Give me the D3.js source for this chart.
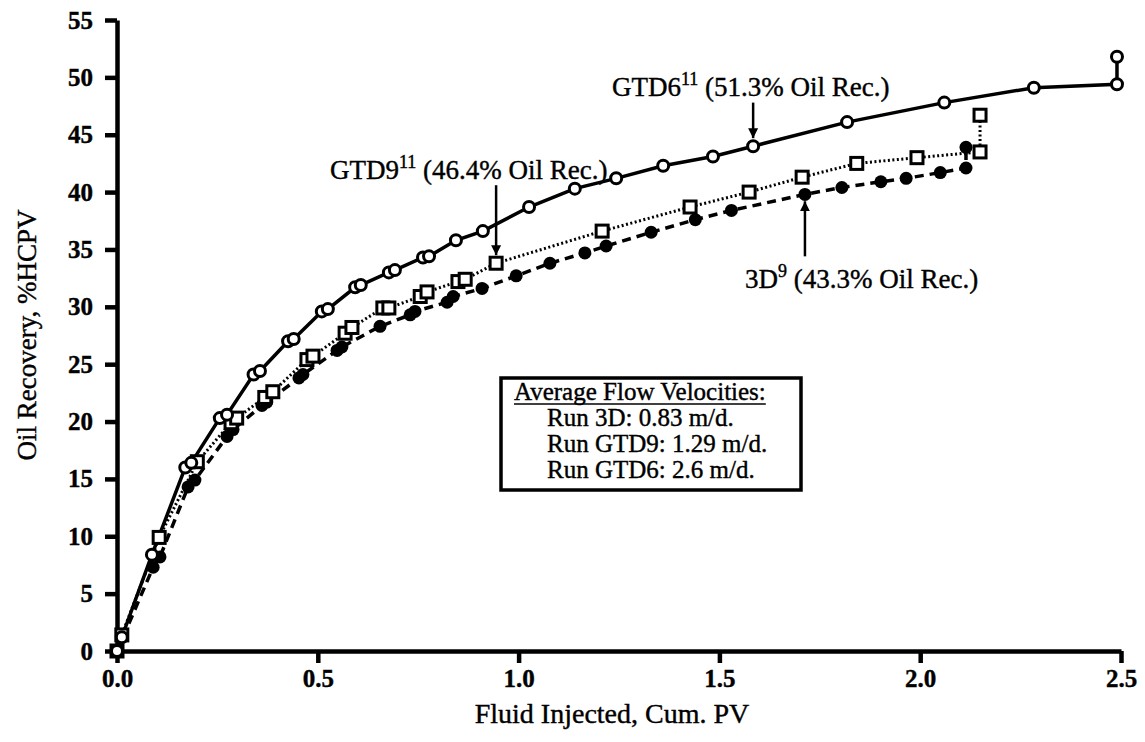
<!DOCTYPE html>
<html>
<head>
<meta charset="utf-8">
<script src="https://cdn.jsdelivr.net/npm/d3@7"></script>
<style>
  body { margin: 0; background: #fff; }
  text { font-family: "Liberation Serif", "DejaVu Serif", serif; fill: #000; stroke: #000; stroke-width: 0.4px; }
</style>
</head>
<body>
<script>
// GTD6 run - open circles, solid line
var gtd6X = [0, 0.012, 0.087, 0.17, 0.185, 0.256, 0.274, 0.34, 0.356, 0.426, 0.44, 0.51, 0.525, 0.593, 0.607, 0.677, 0.692, 0.762, 0.777, 0.844, 0.911, 1.026, 1.14, 1.243, 1.36, 1.484, 1.584, 1.818, 2.06, 2.283, 2.49, 2.49];
var gtd6Y = [0, 1.2, 8.4, 16.0, 16.4, 20.3, 20.6, 24.1, 24.4, 27.0, 27.2, 29.6, 29.8, 31.7, 31.9, 33.0, 33.2, 34.3, 34.4, 35.8, 36.6, 38.7, 40.3, 41.2, 42.3, 43.1, 44.0, 46.1, 47.8, 49.1, 49.4, 51.8];

// GTD9 run - open squares, dotted line
var gtd9X = [0, 0.012, 0.105, 0.2, 0.284, 0.298, 0.368, 0.388, 0.473, 0.488, 0.568, 0.585, 0.662, 0.677, 0.755, 0.772, 0.849, 0.867, 0.944, 1.208, 1.427, 1.574, 1.706, 1.842, 1.992, 2.149, 2.149];
var gtd9Y = [0, 1.4, 9.9, 16.5, 19.9, 20.3, 22.1, 22.6, 25.4, 25.7, 27.7, 28.2, 29.9, 29.9, 30.9, 31.3, 32.2, 32.4, 33.8, 36.6, 38.7, 40.0, 41.3, 42.5, 43.0, 43.5, 46.7];

// 3D run - filled circles, dashed line
var run3dX = [0, 0.09, 0.107, 0.177, 0.194, 0.274, 0.289, 0.361, 0.373, 0.453, 0.463, 0.548, 0.56, 0.655, 0.73, 0.742, 0.822, 0.837, 0.909, 0.994, 1.078, 1.165, 1.218, 1.33, 1.44, 1.53, 1.713, 1.805, 1.902, 1.965, 2.05, 2.114, 2.114];
var run3dY = [0, 7.3, 8.2, 14.3, 14.9, 18.7, 19.3, 21.4, 21.7, 23.8, 24.1, 26.2, 26.5, 28.3, 29.3, 29.6, 30.4, 30.9, 31.6, 32.7, 33.8, 34.7, 35.3, 36.5, 37.6, 38.4, 39.8, 40.4, 40.9, 41.2, 41.7, 42.1, 43.9];

var xTicks = [0, 0.5, 1.0, 1.5, 2.0, 2.5];
var yTicks = [0, 5, 10, 15, 20, 25, 30, 35, 40, 45, 50, 55];

var legendTitle = "Average Flow Velocities:";
var legendRegels = ["Run 3D: 0.83 m/d.", "Run GTD9: 1.29 m/d.", "Run GTD6: 2.6 m/d."];

var breedte = 1145, hoogte = 742;
var marge = {links: 117, rechts: 24, boven: 20, beneden: 91};

var svg = d3.select("body").append("svg")
    .attr("width", breedte)
    .attr("height", hoogte);

var x = d3.scaleLinear().domain([0, 2.5]).range([marge.links, breedte - marge.rechts]);
var y = d3.scaleLinear().domain([0, 55]).range([hoogte - marge.beneden, marge.boven]);

function punten(xs, ys) {
  return xs.map(function(d, i) { return {x: d, y: ys[i]}; });
}
var gtd6 = punten(gtd6X, gtd6Y);
var gtd9 = punten(gtd9X, gtd9Y);
var run3d = punten(run3dX, run3dY);

// assen
var asX = d3.axisBottom(x).tickValues(xTicks).tickFormat(d3.format(".1f")).tickSize(12).tickSizeOuter(0).tickPadding(6);
var asY = d3.axisLeft(y).tickValues(yTicks).tickSize(12).tickSizeOuter(0).tickPadding(12);

var gx = svg.append("g")
    .attr("transform", "translate(0," + y(0) + ")")
    .call(asX);
var gy = svg.append("g")
    .attr("transform", "translate(" + x(0) + ",0)")
    .call(asY);

[gx, gy].forEach(function(g) {
  g.select(".domain").attr("stroke", "#000").attr("stroke-width", 4.5);
  g.selectAll(".tick line").attr("stroke", "#000").attr("stroke-width", 4.5);
  g.selectAll(".tick text").attr("font-size", 25).attr("font-weight", "bold")
      .attr("font-family", "Liberation Serif").attr("fill", "#000");
});

// as titels
svg.append("text")
    .attr("x", 612)
    .attr("y", 723)
    .attr("text-anchor", "middle")
    .attr("font-size", 28)
    .text("Fluid Injected, Cum. PV");

svg.append("text")
    .attr("transform", "translate(36," + 335 + ") rotate(-90)")
    .attr("text-anchor", "middle")
    .attr("font-size", 27)
    .text("Oil Recovery, %HCPV");

// lijnen
var lijn = d3.line().x(function(d) { return x(d.x); }).y(function(d) { return y(d.y); });

svg.append("path").datum(run3d).attr("d", lijn)
    .attr("fill", "none").attr("stroke", "#000").attr("stroke-width", 3.5).attr("stroke-dasharray", "9,6");
svg.append("path").datum(gtd9).attr("d", lijn)
    .attr("fill", "none").attr("stroke", "#000").attr("stroke-width", 3).attr("stroke-dasharray", "2,2.5");
svg.append("path").datum(gtd6).attr("d", lijn)
    .attr("fill", "none").attr("stroke", "#000").attr("stroke-width", 3.5);

// markers
svg.append("g").selectAll("circle").data(run3d).enter().append("circle")
    .attr("cx", function(d) { return x(d.x); })
    .attr("cy", function(d) { return y(d.y); })
    .attr("r", 6.5).attr("fill", "#000");

svg.append("g").selectAll("rect").data(gtd9).enter().append("rect")
    .attr("x", function(d) { return x(d.x) - 6; })
    .attr("y", function(d) { return y(d.y) - 6; })
    .attr("width", 12).attr("height", 12)
    .attr("fill", "#fff").attr("stroke", "#000").attr("stroke-width", 3);

svg.append("g").selectAll("circle").data(gtd6).enter().append("circle")
    .attr("cx", function(d) { return x(d.x); })
    .attr("cy", function(d) { return y(d.y); })
    .attr("r", 5.5).attr("fill", "#fff").attr("stroke", "#000").attr("stroke-width", 3);

// pijlen
svg.append("defs").append("marker")
    .attr("id", "pijl")
    .attr("viewBox", "0 0 10 10")
    .attr("refX", 10).attr("refY", 5)
    .attr("markerWidth", 4).attr("markerHeight", 5)
    .attr("markerUnits", "strokeWidth")
    .attr("orient", "auto")
  .append("path").attr("d", "M0,0 L10,5 L0,10 z").attr("fill", "#000");

function pijl(px, y1, y2) {
  svg.append("line")
      .attr("x1", x(px)).attr("x2", x(px))
      .attr("y1", y(y1)).attr("y2", y(y2))
      .attr("stroke", "#000").attr("stroke-width", 2.5)
      .attr("marker-end", "url(#pijl)");
}
pijl(1.584, 47.8, 44.7);
pijl(0.944, 40.6, 34.5);
pijl(1.713, 34.4, 39.2);

// annotaties
function label(tx, ty, naam, sup, rest) {
  var t = svg.append("text").attr("x", tx).attr("y", ty).attr("font-size", 27);
  t.append("tspan").text(naam);
  t.append("tspan").attr("dy", -11).attr("font-size", 18).text(sup);
  t.append("tspan").attr("dy", 11).text(" " + rest);
}
label(612, 96, "GTD6", "11", "(51.3% Oil Rec.)");
label(330, 179, "GTD9", "11", "(46.4% Oil Rec.)");
label(745, 288, "3D", "9", "(43.3% Oil Rec.)");

// legenda
var legenda = svg.append("g");
legenda.append("rect")
    .attr("x", 501).attr("y", 378)
    .attr("width", 300).attr("height", 112)
    .attr("fill", "#fff").attr("stroke", "#000").attr("stroke-width", 3.5);

var titel = legenda.append("text")
    .attr("x", 514).attr("y", 400)
    .attr("font-size", 25)
    .text(legendTitle);
var tb = titel.node().getBBox();
legenda.append("line")
    .attr("x1", tb.x).attr("x2", tb.x + tb.width)
    .attr("y1", 404).attr("y2", 404)
    .attr("stroke", "#000").attr("stroke-width", 1.5);

legenda.selectAll(".regel").data(legendRegels).enter().append("text")
    .attr("class", "regel")
    .attr("x", 547)
    .attr("y", function(d, i) { return 426 + i * 26; })
    .attr("font-size", 25)
    .text(function(d) { return d; });
</script>
</body>
</html>
